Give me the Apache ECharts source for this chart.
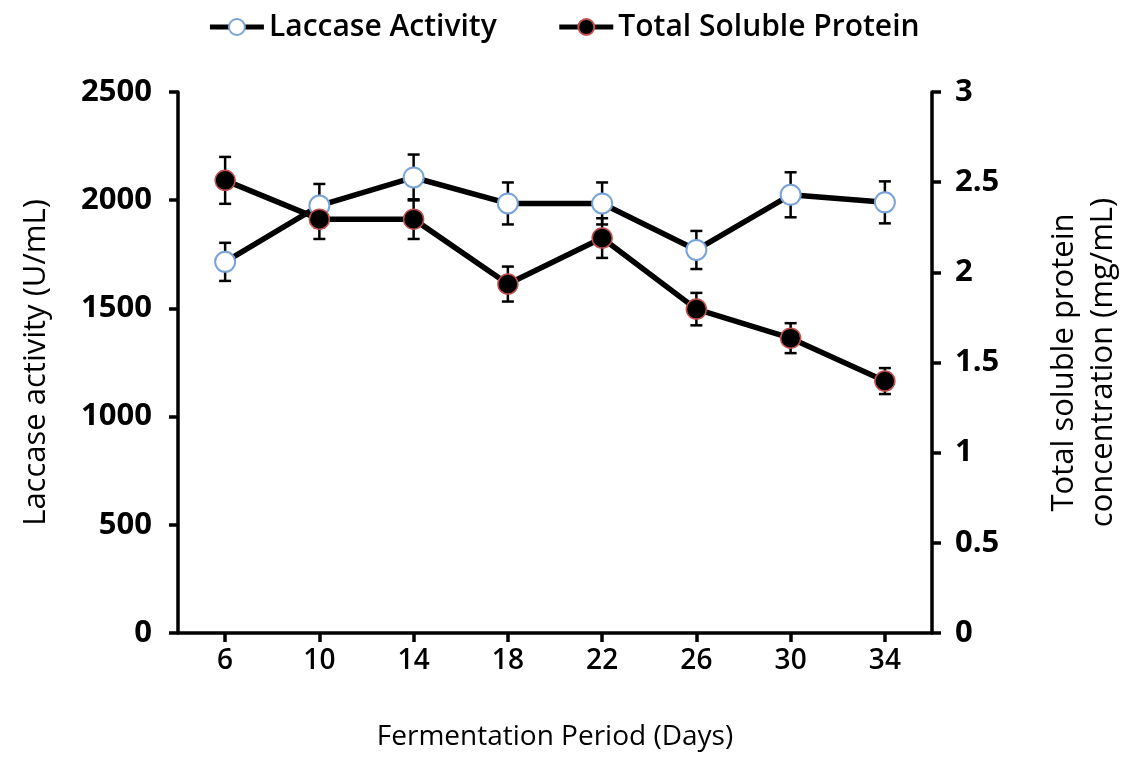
<!DOCTYPE html>
<html>
<head>
<meta charset="utf-8">
<script src="https://cdn.jsdelivr.net/npm/echarts@6/dist/echarts.min.js"></script>
<style>
  html, body { margin: 0; padding: 0; background: #fff; }
  #chart { width: 1127px; height: 776px; }
</style>
</head>
<body>
<div id="chart"></div>
<script>
// fermentation days
var days = ['6', '10', '14', '18', '22', '26', '30', '34'];
// laccase activity (U/mL) and its error
var laccase = [1715, 1975, 2105, 1985, 1985, 1770, 2025, 1990];
var laccaseErr = [88, 100, 106, 97, 97, 88, 104, 97];
// total soluble protein (mg/mL) and its error
var protein = [2.51, 2.295, 2.295, 1.935, 2.19, 1.796, 1.635, 1.397];
var proteinErr = [0.13, 0.11, 0.11, 0.097, 0.11, 0.09, 0.083, 0.072];

var FONT = '"Open Sans", "DejaVu Sans", sans-serif';

function errData(vals, errs) {
    var out = [];
    for (var i = 0; i < vals.length; i++) {
        out.push([i, vals[i], errs[i]]);
    }
    return out;
}

// vertical error bar with caps
function renderErr(params, api) {
    var x = api.value(0);
    var v = api.value(1);
    var e = api.value(2);
    var top = api.coord([x, v + e]);
    var bot = api.coord([x, v - e]);
    var hw = 6;
    var st = { stroke: '#000', lineWidth: 2.5 };
    return {
        type: 'group',
        children: [
            { type: 'line', shape: { x1: top[0], y1: top[1], x2: bot[0], y2: bot[1] }, style: st },
            { type: 'line', shape: { x1: top[0] - hw, y1: top[1], x2: top[0] + hw, y2: top[1] }, style: st },
            { type: 'line', shape: { x1: bot[0] - hw, y1: bot[1], x2: bot[0] + hw, y2: bot[1] }, style: st }
        ]
    };
}

var chart = echarts.init(document.getElementById('chart'));
var axisLine = { show: true, lineStyle: { color: '#000', width: 3.5 } };
var axisTick = { show: true, inside: false, length: 9, lineStyle: { color: '#000', width: 3.5 } };

var option = {
    animation: false,
    backgroundColor: '#fff',
    textStyle: { fontFamily: FONT },
    legend: {
        top: 7,
        left: 'center',
        itemWidth: 54,
        itemHeight: 20,
        itemGap: 60,
        lineStyle: { width: 5 },
        textStyle: { fontFamily: FONT, fontSize: 30, fontWeight: 600, color: '#000' },
        data: ['Laccase Activity', 'Total Soluble Protein']
    },
    grid: { left: 178, right: 195, top: 92, bottom: 143, outerBoundsMode: 'none' },
    xAxis: {
        type: 'category',
        data: days,
        boundaryGap: true,
        axisLine: axisLine,
        axisTick: { show: true, alignWithLabel: true, length: 9, lineStyle: { color: '#000', width: 3.5 } },
        axisLabel: { color: '#000', fontSize: 28, fontWeight: 600, fontFamily: FONT, margin: 14 },
        name: 'Fermentation Period (Days)',
        nameLocation: 'middle',
        nameGap: 90,
        nameTextStyle: { color: '#000', fontSize: 28, fontFamily: FONT, fontWeight: 500 }
    },
    yAxis: [{
        type: 'value',
        min: 0,
        max: 2500,
        interval: 500,
        position: 'left',
        splitLine: { show: false },
        axisLine: axisLine,
        axisTick: axisTick,
        axisLabel: {
            color: '#000', fontSize: 31, fontWeight: 'bold', fontFamily: FONT, margin: 26,
            formatter: function (v) { return String(v); }
        },
        name: 'Laccase activity (U/mL)',
        nameLocation: 'middle',
        nameRotate: 90,
        nameGap: 126,
        nameTextStyle: { color: '#000', fontSize: 31, fontFamily: FONT, fontWeight: 500 }
    }, {
        type: 'value',
        min: 0,
        max: 3,
        interval: 0.5,
        position: 'right',
        splitLine: { show: false },
        axisLine: axisLine,
        axisTick: axisTick,
        axisLabel: { color: '#000', fontSize: 31, fontWeight: 'bold', fontFamily: FONT, margin: 23 },
        name: 'Total soluble protein\nconcentration (mg/mL)',
        nameLocation: 'middle',
        nameRotate: 90,
        nameGap: 113,
        nameTextStyle: { color: '#000', fontSize: 31, fontFamily: FONT, fontWeight: 500, lineHeight: 39 }
    }],
    series: [{
        name: 'Laccase Activity',
        type: 'line',
        yAxisIndex: 0,
        data: laccase,
        symbol: 'circle',
        symbolSize: 20,
        z: 3,
        lineStyle: { color: '#000', width: 5.5 },
        itemStyle: { color: '#fff', borderColor: '#7aa3d6', borderWidth: 2 }
    }, {
        name: 'Total Soluble Protein',
        type: 'line',
        yAxisIndex: 1,
        data: protein,
        symbol: 'circle',
        symbolSize: 20,
        z: 4,
        lineStyle: { color: '#000', width: 5.5 },
        itemStyle: { color: '#000', borderColor: '#c0504d', borderWidth: 1.5 }
    }, {
        type: 'custom',
        yAxisIndex: 0,
        data: errData(laccase, laccaseErr),
        encode: { x: 0, y: 1 },
        renderItem: renderErr,
        z: 1
    }, {
        type: 'custom',
        yAxisIndex: 1,
        data: errData(protein, proteinErr),
        encode: { x: 0, y: 1 },
        renderItem: renderErr,
        z: 1
    }]
};
chart.setOption(option);
</script>
</body>
</html>
